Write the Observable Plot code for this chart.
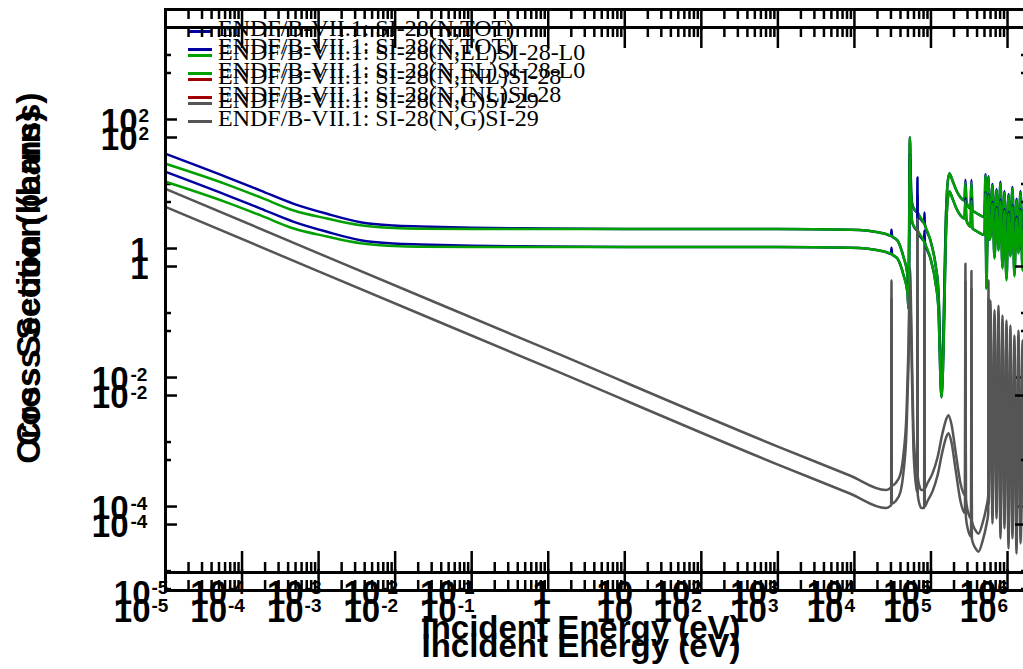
<!DOCTYPE html>
<html><head><meta charset="utf-8">
<script src="https://cdn.jsdelivr.net/npm/d3@7"></script>
<script src="https://cdn.jsdelivr.net/npm/@observablehq/plot@0.6"></script>
<style>
html,body{margin:0;padding:0;background:#fff;overflow:hidden;width:1023px;height:669px}
#wrap{position:relative;width:1023px;height:669px;overflow:hidden;background:#fff}
.layer{position:absolute;left:0;width:1040px;height:669px}
.layer svg{position:absolute;left:0;top:0}
.legend{position:absolute;left:0;top:0;font-family:"Liberation Serif","Times New Roman",serif;font-size:24px;color:#000}
.row{position:absolute;left:188px;height:24px;line-height:24px;display:flex;align-items:center;white-space:nowrap}
.row .t{position:relative;top:-3px}
.sw{display:inline-block;width:24px;height:3px;margin-right:6px}
</style></head><body><div id="wrap"></div>
<script>
// ---------------- data ----------------
const seriesNames = [
  "ENDF/B-VII.1: SI-28(N,TOT)",
  "ENDF/B-VII.1: SI-28(N,EL)SI-28-L0",
  "ENDF/B-VII.1: SI-28(N,INL)SI-28",
  "ENDF/B-VII.1: SI-28(N,G)SI-29"
];
const seriesColors = ["#0000a0", "#00a000", "#a00000", "#555555"];

// total
const totE  = [1e-5, 6.4e-5, 1.75e-4, 4.74e-4, 1.29e-3, 3.52e-3, 9.6e-3, 2.14e-2, 0.1, 1, 10, 100, 1e3, 8.87e3, 2.45e4, 3.0e4, 3.05e4, 3.1e4, 3.65e4, 4.38e4, 4.92e4, 5.1e4, 5.3e4, 5.5e4, 5.73e4, 6.6e4, 6.66e4, 6.72e4, 7.98e4, 8.15e4, 8.22e4, 8.3e4, 9.85e4, 1.15e5, 1.25e5, 1.37e5, 1.46e5, 1.55e5, 1.64e5, 1.74e5, 1.91e5, 2.15e5, 2.43e5, 2.74e5, 2.82e5, 2.91e5, 3.28e5, 3.38e5, 3.48e5, 3.81e5, 4.43e5, 5.0e5, 5.15e5, 5.31e5, 5.45e5, 5.64e5, 5.8e5,
  5.98e5, 6.36e5, 6.76e5, 7.18e5, 7.62e5, 8.09e5, 8.59e5, 9.12e5, 9.69e5, 1.03e6, 1.09e6, 1.16e6, 1.23e6, 1.31e6, 1.39e6, 1.48e6, 1.57e6, 1.66e6, 1.77e6, 1.9e6];
const totXS = [29.4, 12.7, 7.9, 4.93, 3.45, 2.56, 2.27, 2.19, 2.09, 2.04, 2.01, 2.0, 2.0, 1.95, 1.71, 1.56, 1.95, 1.55, 1.33, 0.74, 0.4, 0.22, 53, 8.2, 4.7, 3.65, 12.6, 3.6, 2.53, 2.47, 3.61, 2.42, 1.33, 0.55, 0.225, 0.0095, 0.054, 1.9, 9.5, 14.6, 11.3, 7.95, 6.2, 5.56, 11.6, 5.18, 4.18, 11.5, 3.9, 3.62, 3.26, 3.1, 14.2, 0.46, 2.9, 13.2, 2.6,
  3.0, 10.0, 1.4, 8.3, 1.85, 10.8, 0.98, 7.8, 0.64, 7.0, 1.5, 9.0, 0.74, 5.9, 1.68, 7.8, 0.92, 4.9, 1.4, 3.2];

// elastic
const elE  = [1e-5, 6.4e-5, 1.75e-4, 4.74e-4, 1.29e-3, 3.52e-3, 9.6e-3, 2.14e-2, 0.1, 1, 10, 100, 1e3, 8.87e3, 2.45e4, 3.65e4, 4.38e4, 4.92e4, 5.1e4, 5.3e4, 5.5e4, 5.73e4, 6.66e4, 7.98e4, 9.85e4, 1.15e5, 1.25e5, 1.37e5, 1.46e5, 1.55e5, 1.64e5, 1.74e5, 1.91e5, 2.15e5, 2.43e5, 2.74e5, 2.82e5, 2.91e5, 3.28e5, 3.38e5, 3.48e5, 3.81e5, 4.43e5, 5.0e5, 5.15e5, 5.31e5, 5.45e5, 5.64e5, 5.8e5,
  5.98e5, 6.36e5, 6.76e5, 7.18e5, 7.62e5, 8.09e5, 8.59e5, 9.12e5, 9.69e5, 1.03e6, 1.09e6, 1.16e6, 1.23e6, 1.31e6, 1.39e6, 1.48e6, 1.57e6, 1.66e6, 1.77e6, 1.9e6];
const elXS = [20.6, 9.8, 6.2, 3.88, 2.92, 2.30, 2.08, 2.02, 2.0, 2.0, 2.0, 2.0, 2.0, 1.95, 1.71, 1.33, 0.73, 0.4, 0.22, 52.6, 8.0, 4.65, 3.61, 2.53, 1.33, 0.545, 0.223, 0.0093, 0.0536, 1.9, 9.48, 14.6, 11.3, 7.93, 6.18, 5.55, 10.5, 5.17, 4.17, 10.5, 3.9, 3.61, 3.25, 3.1, 13.6, 0.456, 2.9, 12.6, 2.6,
  2.92, 9.5, 1.33, 7.9, 1.77, 10.2, 0.93, 7.38, 0.607, 6.64, 1.43, 8.51, 0.70, 5.55, 1.59, 7.38, 0.867, 4.65, 1.33, 3.0];

// inelastic (threshold lies beyond the right edge of the plotted range)
const inlE  = [1.85e6, 2e6, 3e6, 6e6, 2e7];
const inlXS = [0.001, 0.05, 0.35, 0.4, 0.3];

// capture
const capE  = [1e-5, 1e-3, 1, 1e3, 8.87e3, 2.55e4, 2.96e4, 3.02e4, 3.05e4, 3.08e4, 3.44e4, 3.99e4, 4.38e4, 4.79e4, 5.08e4, 5.32e4, 5.56e4, 5.9e4, 6.46e4, 6.6e4, 6.66e4, 6.72e4, 7.06e4, 7.51e4, 8.15e4, 8.22e4, 8.3e4, 8.99e4, 1.05e5, 1.22e5, 1.41e5, 1.59e5, 1.69e5, 1.85e5, 2.09e5, 2.43e5, 2.78e5, 2.82e5, 2.86e5, 3.09e5, 3.34e5, 3.38e5, 3.42e5, 3.81e5, 4.17e5, 4.71e5, 5.31e5, 5.6e5, 5.64e5, 5.68e5,
  5.98e5, 6.36e5, 6.76e5, 7.18e5, 7.62e5, 8.09e5, 8.59e5, 9.12e5, 9.69e5, 1.03e6, 1.09e6, 1.16e6, 1.23e6, 1.31e6, 1.39e6, 1.48e6, 1.57e6, 1.66e6, 1.77e6, 1.9e6];
const capXS = [8.43, 0.84, 0.027, 8.5e-4, 3.0e-4, 1.8e-4, 1.95e-4, 2.0e-4, 0.32, 2.1e-4, 2.3e-4, 3.2e-4, 6.6e-4, 2.8e-3, 0.029, 0.5, 0.053, 1.5e-3, 3.6e-4, 3.2e-4, 5.5, 2.9e-4, 2.1e-4, 1.8e-4, 1.8e-4, 1.6, 1.9e-4, 2.3e-4, 3.3e-4, 5.8e-4, 1.35e-3, 2.3e-3, 2.6e-3, 1.9e-3, 7.3e-4, 2.3e-4, 1.5e-4, 0.58, 1.3e-4, 7.8e-5, 6.5e-5, 0.45, 6e-5, 4.3e-5, 3.8e-5, 5.5e-5, 1.0e-4, 1.5e-4, 0.32, 2e-4,
  0.156, 1.04e-4, 0.110, 1.24e-4, 0.130, 6.1e-5, 0.0915, 8.7e-5, 0.0766, 4.25e-5, 0.064, 6.1e-5, 0.0448, 3.55e-5, 0.0535, 5.1e-5, 0.0375, 4.25e-5, 0.0313, 5e-5];

// axes
const xDomain = [1e-5, 1.824e6];
const yDomain = [9.5e-6, 5.07e3];
const xDecades = [-5, -4, -3, -2, -1, 0, 1, 2, 3, 4, 5, 6];
const yDecades = [-5, -4, -3, -2, -1, 0, 1, 2, 3];
const yLabelDecades = [-4, -2, 0, 2];
const xTitle = "Incident Energy (eV)";
const yTitle = "Cross Section (barns)";
const copyOffsets = [0, 18];

// ---------------- drawing ----------------
const TICKF = "'Liberation Sans Narrow','Arial Narrow','Liberation Sans',Arial,sans-serif";
const TITLEF = "'Liberation Sans',Arial,sans-serif";
const W = 1040, H = 669, mL = 165, mR = 13, mT = 9, mB = 97;
const plotW = W - mL - mR, plotH = H - mT - mB;

const series = [
  {E: totE, S: totXS}, {E: elE, S: elXS}, {E: inlE, S: inlXS}, {E: capE, S: capXS}
].map((s, i) => ({rows: s.E.map((e, j) => ({e, v: s.S[j]})), color: seriesColors[i]}));

const xMinor = [];
for (const d of xDecades) for (let m = 2; m <= 9; m++) { const v = m * 10 ** d; if (v <= xDomain[1]) xMinor.push(v); }
const xMajor = xDecades.map(d => 10 ** d);
const yMajor = yDecades.filter(d => d % 2 === 0).map(d => 10 ** d);
const yMinorT = yDecades.filter(d => d % 2 !== 0).map(d => 10 ** d);

function makeChart() {
  const txt = {fontFamily: TICKF, fontWeight: "bold", fill: "black"};
  const xPos = xDecades.filter(d => d >= 2), xNeg = xDecades.filter(d => d < 0);
  const yPos = yLabelDecades.filter(d => d > 0), yNeg = yLabelDecades.filter(d => d < 0);
  return Plot.plot({
    width: W, height: H, marginLeft: mL, marginRight: mR, marginTop: mT, marginBottom: mB,
    style: {background: "transparent", overflow: "visible", maxWidth: "none"},
    x: {type: "log", domain: xDomain, axis: null},
    y: {type: "log", domain: yDomain, axis: null},
    marks: [
      ...series.map(s => Plot.line(s.rows, {x: "e", y: "v", stroke: s.color, strokeWidth: 2.5, curve: "monotone-x", clip: true})),
      Plot.frame({stroke: "black", strokeWidth: 3}),
      // x ticks bottom & top
      Plot.tickX(xMajor, {x: d => d, insetTop: plotH - 21, stroke: "black", strokeWidth: 2.5}),
      Plot.tickX(xMajor, {x: d => d, insetBottom: plotH - 21, stroke: "black", strokeWidth: 2.5}),
      Plot.tickX(xMinor, {x: d => d, insetTop: plotH - 10, stroke: "black", strokeWidth: 2.5}),
      Plot.tickX(xMinor, {x: d => d, insetBottom: plotH - 10, stroke: "black", strokeWidth: 2.5}),
      // y ticks left & right
      Plot.tickY(yMajor, {y: d => d, insetRight: plotW - 12, stroke: "black", strokeWidth: 2.5}),
      Plot.tickY(yMajor, {y: d => d, insetLeft: plotW - 12, stroke: "black", strokeWidth: 2.5}),
      Plot.tickY(yMinorT, {y: d => d, insetRight: plotW - 6, stroke: "black", strokeWidth: 2.5}),
      Plot.tickY(yMinorT, {y: d => d, insetLeft: plotW - 6, stroke: "black", strokeWidth: 2.5}),
      // x tick labels
      Plot.text(xPos, {x: d => 10 ** d, text: () => "10", frameAnchor: "bottom", textAnchor: "end", lineAnchor: "bottom", dx: -11, dy: 31, fontSize: 33, ...txt}),
      Plot.text(xPos, {x: d => 10 ** d, text: d => String(d), frameAnchor: "bottom", textAnchor: "start", lineAnchor: "bottom", dx: -10, dy: 21, fontSize: 19, ...txt}),
      Plot.text(xNeg, {x: d => 10 ** d, text: () => "10", frameAnchor: "bottom", textAnchor: "end", lineAnchor: "bottom", dx: -15, dy: 31, fontSize: 33, ...txt}),
      Plot.text(xNeg, {x: d => 10 ** d, text: d => String(d), frameAnchor: "bottom", textAnchor: "start", lineAnchor: "bottom", dx: -14, dy: 21, fontSize: 19, ...txt}),
      Plot.text([0], {x: d => 10 ** d, text: () => "1", frameAnchor: "bottom", textAnchor: "middle", lineAnchor: "bottom", dx: -6.5, dy: 31, fontSize: 33, ...txt}),
      Plot.text([1], {x: d => 10 ** d, text: () => "10", frameAnchor: "bottom", textAnchor: "middle", lineAnchor: "bottom", dx: -10, dy: 31, fontSize: 33, ...txt}),
      // y tick labels
      Plot.text(yPos, {y: d => 10 ** d, text: () => "10", frameAnchor: "left", textAnchor: "end", lineAnchor: "middle", dx: -28, dy: 2, fontSize: 33, ...txt}),
      Plot.text(yPos, {y: d => 10 ** d, text: d => String(d), frameAnchor: "left", textAnchor: "start", lineAnchor: "bottom", dx: -27, dy: 3, fontSize: 19, ...txt}),
      Plot.text(yNeg, {y: d => 10 ** d, text: () => "10", frameAnchor: "left", textAnchor: "end", lineAnchor: "middle", dx: -37, dy: 2, fontSize: 33, ...txt}),
      Plot.text(yNeg, {y: d => 10 ** d, text: d => String(d), frameAnchor: "left", textAnchor: "start", lineAnchor: "bottom", dx: -35, dy: 3, fontSize: 19, ...txt}),
      Plot.text([0], {y: d => 10 ** d, text: () => "1", frameAnchor: "left", textAnchor: "end", lineAnchor: "middle", dx: -17, dy: 2, fontSize: 33, ...txt}),
      // titles
      Plot.text([xTitle], {frameAnchor: "bottom", textAnchor: "middle", lineAnchor: "bottom", dx: -15.5, dy: 66, fontSize: 33, fontWeight: "bold", fontFamily: TITLEF, fill: "black"}),
      Plot.text([yTitle], {frameAnchor: "left", rotate: -90, textAnchor: "middle", lineAnchor: "bottom", dx: -126, dy: -22, fontSize: 34, fontWeight: "bold", fontFamily: TITLEF, fill: "black"})
    ]
  });
}

function makeLegend() {
  const lg = document.createElement("div");
  lg.className = "legend";
  seriesNames.forEach((name, i) => {
    const row = document.createElement("div");
    row.className = "row";
    row.style.top = (31 + 24 * i - 12) + "px";
    const sw = document.createElement("span");
    sw.className = "sw";
    sw.style.background = seriesColors[i];
    const t = document.createElement("span");
    t.className = "t";
    t.textContent = name;
    row.appendChild(sw); row.appendChild(t);
    lg.appendChild(row);
  });
  return lg;
}

const wrap = document.getElementById("wrap");
for (const off of copyOffsets) {
  const layer = document.createElement("div");
  layer.className = "layer";
  layer.style.top = off + "px";
  layer.appendChild(makeChart());
  layer.appendChild(makeLegend());
  wrap.appendChild(layer);
}
</script>
</body></html>
